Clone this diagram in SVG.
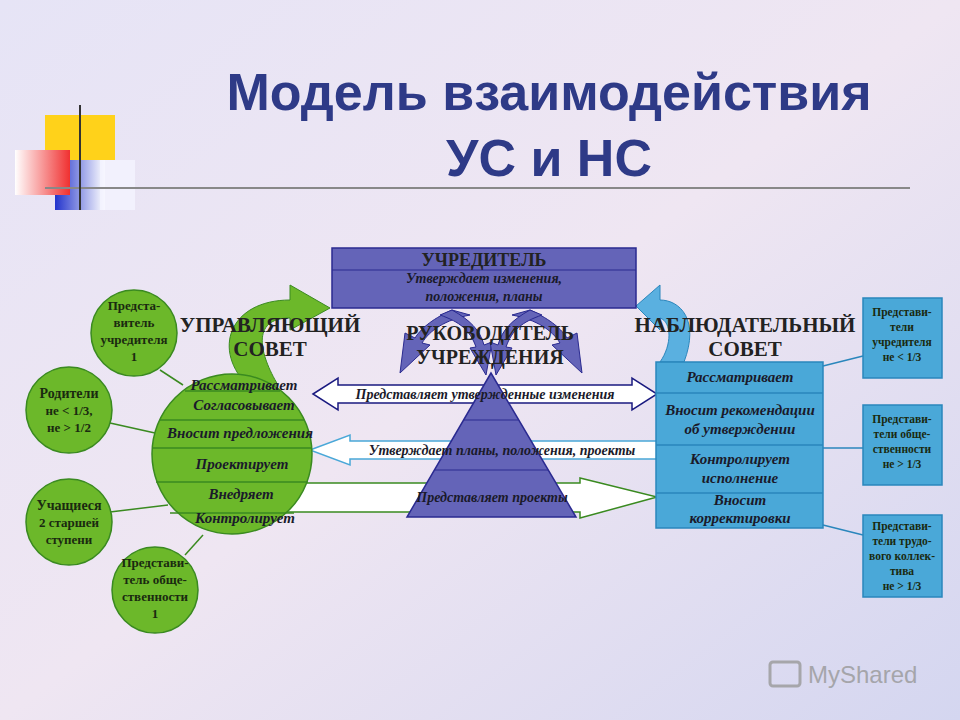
<svg xmlns="http://www.w3.org/2000/svg" width="960" height="720" viewBox="0 0 960 720">
<defs>
<linearGradient id="bg" x1="0" y1="0" x2="1" y2="1"><stop offset="0" stop-color="#e6e4f6"/><stop offset="0.5" stop-color="#efe6f2"/><stop offset="1" stop-color="#d4d6f0"/></linearGradient>
<linearGradient id="red" x1="0" y1="0" x2="1" y2="0"><stop offset="0" stop-color="#fff"/><stop offset="1" stop-color="#f03030"/></linearGradient>
<linearGradient id="blu" x1="0" y1="0" x2="1" y2="0"><stop offset="0" stop-color="#2233cc"/><stop offset="1" stop-color="#fff"/></linearGradient>
<style>
.t{font-family:"Liberation Serif",serif;font-weight:bold;font-size:13px;fill:#1a2a10;text-anchor:middle}
.i{font-family:"Liberation Serif",serif;font-weight:bold;font-style:italic;font-size:15px;fill:#1a1a2a;text-anchor:middle}
.h{font-family:"Liberation Serif",serif;font-weight:bold;font-size:21px;fill:#222;text-anchor:middle}
.g{fill:#6cb82a;stroke:#3a8a20;stroke-width:1.5}
.gl{stroke:#3a8a20;stroke-width:1.5}
.b{fill:#4aa8d8;stroke:#2a86bc;stroke-width:1.5}
.bl{stroke:#2a86bc;stroke-width:1.5}
.p{fill:#6464b8;stroke:#2a2a90;stroke-width:1.5}
.tt{font-family:"Liberation Sans",sans-serif;font-weight:bold;font-size:52px;fill:#2e3a87;text-anchor:middle}
</style>
</defs>
<rect width="960" height="720" fill="url(#bg)"/>
<rect x="45" y="115" width="70" height="45" fill="#ffd21a"/>
<rect x="55" y="160" width="50" height="50" fill="url(#blu)"/>
<rect x="100" y="160" width="35" height="50" fill="#f4f4ff" opacity="0.8"/>
<rect x="15" y="150" width="55" height="45" fill="url(#red)"/>
<line x1="45" y1="188" x2="910" y2="188" stroke="#888" stroke-width="2"/>
<line x1="80" y1="105" x2="80" y2="210" stroke="#333" stroke-width="2"/>
<text class="tt" x="549" y="110">Модель взаимодействия</text>
<text class="tt" x="549" y="176">УС и НС</text>

<g id="connectors">
<line class="gl" x1="160" y1="370" x2="183" y2="385"/>
<line class="gl" x1="110" y1="423" x2="155" y2="433"/>
<line class="gl" x1="110" y1="512" x2="168" y2="505"/>
<line class="gl" x1="185" y1="555" x2="203" y2="535"/>
<line class="bl" x1="823" y1="366" x2="863" y2="356"/>
<line class="bl" x1="823" y1="448" x2="863" y2="448"/>
<line class="bl" x1="823" y1="525" x2="863" y2="535"/>
<path d="M250 388 C 210 350, 230 300, 290 300 L 290 285 L 330 308 L 290 330 L 290 318 C 250 318, 260 355, 278 385 Z" fill="#6cb82a" stroke="#3a8a20"/>
<path d="M684 362 C 700 320, 680 300, 660 300 L 660 285 L 636 306 L 660 330 L 660 318 C 672 322, 672 345, 660 362 Z" fill="#5ab0e0" stroke="#2a86bc"/>
<path d="M313 394 L 338 378 L 338 385 L 632 385 L 632 378 L 657 394 L 632 410 L 632 403 L 338 403 L 338 410 Z" fill="#fff" stroke="#1a1a80" stroke-width="1.5"/>
<path d="M310 450 L 350 435 L 350 441 L 657 441 L 657 459 L 350 459 L 350 465 Z" fill="#fff" stroke="#4aa8d8" stroke-width="1.5"/>
<path d="M280 483 L 580 483 L 580 478 L 657 497 L 580 518 L 580 512 L 280 512 Z" fill="#fff" stroke="#3a8a20" stroke-width="1.5"/>
<path d="M452 310 C 430 320, 420 330, 415 338 L 405 333 L 400 373 L 430 345 L 422 343 C 430 330, 445 320, 470 315 Z" fill="#6464b8" stroke="#2a2a90"/>
<path d="M452 310 C 470 320, 480 330, 484 345 L 492 342 L 486 375 L 470 348 L 476 347 C 470 330, 460 322, 440 315 Z" fill="#6464b8" stroke="#2a2a90"/>
<path d="M530 310 C 552 320, 562 330, 567 338 L 577 333 L 582 373 L 552 345 L 560 343 C 552 330, 537 320, 512 315 Z" fill="#6464b8" stroke="#2a2a90"/>
<path d="M530 310 C 512 320, 502 330, 498 345 L 490 342 L 496 375 L 512 348 L 506 347 C 512 330, 522 322, 542 315 Z" fill="#6464b8" stroke="#2a2a90"/>
</g>

<g id="founder">
<rect class="p" x="332" y="248" width="304" height="60"/>
<line x1="332" y1="270" x2="636" y2="270" stroke="#2a2a90"/>
<text class="h" x="484" y="266" style="font-size:18px">УЧРЕДИТЕЛЬ</text>
<text class="i" x="484" y="283" style="font-size:14px">Утверждает изменения,</text>
<text class="i" x="484" y="301" style="font-size:14px">положения, планы</text>
</g>

<g id="head">
<polygon points="491,373 407,517 576,517" fill="#6464b8" stroke="#2a2a90" stroke-width="1.5"/>
<line x1="464" y1="420" x2="518" y2="420" stroke="#2a2a90"/>
<line x1="435" y1="470" x2="548" y2="470" stroke="#2a2a90"/>
<text class="h" x="490" y="340" style="font-size:20px">РУКОВОДИТЕЛЬ</text>
<text class="h" x="490" y="364" style="font-size:20px">УЧРЕЖДЕНИЯ</text>
<text class="i" x="485" y="399" style="font-size:14px">Представляет утвержденные изменения</text>
<text class="i" x="502" y="455" style="font-size:14px">Утверждает планы, положения, проекты</text>
<text class="i" x="492" y="502" style="font-size:14px">Представляет проекты</text>
</g>

<g id="gov">
<circle class="g" cx="232" cy="454" r="80"/>
<line class="gl" x1="160" y1="420" x2="304" y2="420"/>
<line class="gl" x1="153" y1="448" x2="311" y2="448"/>
<line class="gl" x1="156" y1="482" x2="308" y2="482"/>
<line class="gl" x1="170" y1="513" x2="294" y2="513"/>
<line class="gl" x1="185" y1="391" x2="280" y2="391"/>
<text class="h" x="270" y="332">УПРАВЛЯЮЩИЙ</text>
<text class="h" x="270" y="356">СОВЕТ</text>
<text class="i" x="244" y="390">Рассматривает</text>
<text class="i" x="244" y="410">Согласовывает</text>
<text class="i" x="240" y="438">Вносит предложения</text>
<text class="i" x="242" y="469">Проектирует</text>
<text class="i" x="241" y="499">Внедряет</text>
<text class="i" x="245" y="523">Контролирует</text>
</g>
<g id="c1"><circle class="g" cx="134" cy="333" r="43"/><text class="t" x="134" y="310">Предста-</text><text class="t" x="134" y="327">витель</text><text class="t" x="134" y="344">учредителя</text><text class="t" x="134" y="361">1</text></g>
<g id="c2"><circle class="g" cx="69" cy="410" r="43"/><text class="t" x="69" y="398" style="font-size:14px">Родители</text><text class="t" x="69" y="415">не &lt; 1/3,</text><text class="t" x="69" y="432">не &gt; 1/2</text></g>
<g id="c3"><circle class="g" cx="69" cy="522" r="43"/><text class="t" x="69" y="510" style="font-size:14px">Учащиеся</text><text class="t" x="69" y="527">2 старшей</text><text class="t" x="69" y="544">ступени</text></g>
<g id="c4"><circle class="g" cx="155" cy="590" r="43"/><text class="t" x="155" y="567">Представи-</text><text class="t" x="155" y="584">тель обще-</text><text class="t" x="155" y="601">ственности</text><text class="t" x="155" y="618">1</text></g>

<g id="sup">
<rect class="b" x="656" y="362" width="167" height="166"/>
<line class="bl" x1="656" y1="393" x2="823" y2="393"/>
<line class="bl" x1="656" y1="445" x2="823" y2="445"/>
<line class="bl" x1="656" y1="493" x2="823" y2="493"/>
<text class="h" x="745" y="332">НАБЛЮДАТЕЛЬНЫЙ</text>
<text class="h" x="745" y="356">СОВЕТ</text>
<text class="i" x="740" y="382">Рассматривает</text>
<text class="i" x="740" y="415">Вносит рекомендации</text>
<text class="i" x="740" y="434">об утверждении</text>
<text class="i" x="740" y="464">Контролирует</text>
<text class="i" x="740" y="483">исполнение</text>
<text class="i" x="740" y="505">Вносит</text>
<text class="i" x="740" y="523">корректировки</text>
</g>
<g id="r1"><rect class="b" x="863" y="298" width="79" height="80"/><text class="t" x="902" y="316" style="font-size:11.5px">Представи-</text><text class="t" x="902" y="331" style="font-size:11.5px">тели</text><text class="t" x="902" y="346" style="font-size:11.5px">учредителя</text><text class="t" x="902" y="361" style="font-size:11.5px">не &lt; 1/3</text></g>
<g id="r2"><rect class="b" x="863" y="405" width="79" height="80"/><text class="t" x="902" y="423" style="font-size:11.5px">Представи-</text><text class="t" x="902" y="438" style="font-size:11.5px">тели обще-</text><text class="t" x="902" y="453" style="font-size:11.5px">ственности</text><text class="t" x="902" y="468" style="font-size:11.5px">не &gt; 1/3</text></g>
<g id="r3"><rect class="b" x="863" y="515" width="79" height="82"/><text class="t" x="902" y="530" style="font-size:11.5px">Представи-</text><text class="t" x="902" y="545" style="font-size:11.5px">тели трудо-</text><text class="t" x="902" y="560" style="font-size:11.5px">вого коллек-</text><text class="t" x="902" y="575" style="font-size:11.5px">тива</text><text class="t" x="902" y="590" style="font-size:11.5px">не &gt; 1/3</text></g>

<text x="808" y="683" font-family="Liberation Sans,sans-serif" font-size="24" fill="#999" opacity="0.8">MyShared</text>
<rect x="770" y="662" width="30" height="24" rx="3" fill="none" stroke="#999" stroke-width="3" opacity="0.8"/>
</svg>
